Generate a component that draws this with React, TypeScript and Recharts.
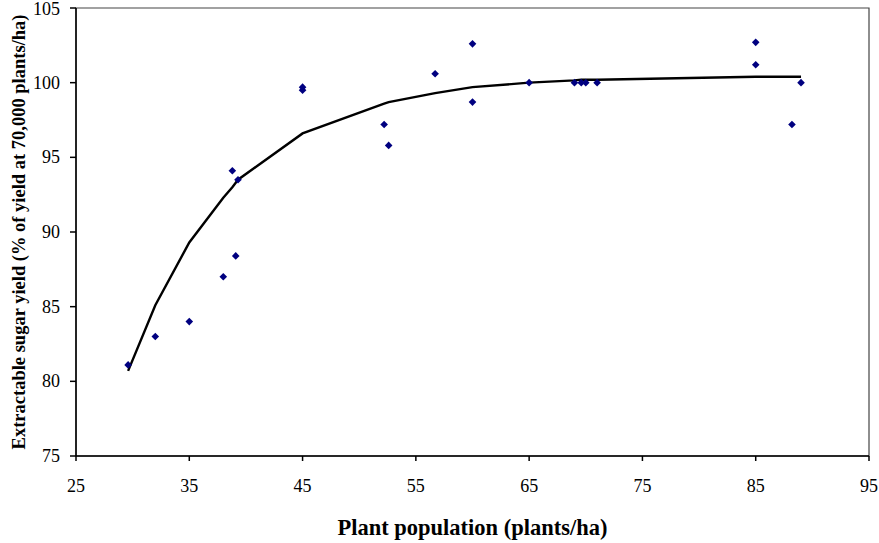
import React from 'react';
import { ScatterChart, Scatter, XAxis, YAxis, ReferenceArea, Label } from 'recharts';

// observed points
const obsX = [29.6, 32, 35, 38, 39.1, 38.8, 39.3, 45, 45, 52.2, 52.6, 56.7, 60, 60, 65, 69, 69.6, 70, 71, 85, 85, 88.2, 89];
const obsY = [81.1, 83, 84, 87, 88.4, 94.1, 93.5, 99.7, 99.5, 97.2, 95.8, 100.6, 102.6, 98.7, 100, 100, 100, 100, 100, 102.7, 101.2, 97.2, 100];

// fitted response curve
const fitX = [29.6, 32, 35, 38, 38.8, 39.1, 39.3, 45, 52.2, 52.6, 56.7, 60, 65, 69, 69.6, 70, 71, 85, 88.2, 89];
const fitY = [80.7, 85.1, 89.3, 92.3, 93.0, 93.3, 93.5, 96.6, 98.6, 98.7, 99.3, 99.7, 100.0, 100.15, 100.2, 100.2, 100.2, 100.4, 100.4, 100.4];

const xTicks = [25, 35, 45, 55, 65, 75, 85, 95];
const yTicks = [75, 80, 85, 90, 95, 100, 105];

const obsData = obsX.map((x, i) => ({ x, y: obsY[i] }));
const fitData = fitX.map((x, i) => ({ x, y: fitY[i] }));

const FONT = 'Liberation Serif';

const Diamond = (props: any) => {
    const { cx, cy } = props;
    if (cx == null || cy == null) return null;
    const r = 3.8;
    return <polygon points={`${cx},${cy - r} ${cx + r},${cy} ${cx},${cy + r} ${cx - r},${cy}`} fill="#000080" />;
};

const NoDot = () => <g />;

const XTick = (props: any) => (
    <text x={props.x} y={props.y} dy="0.72em" textAnchor="middle"
        style={{ fontFamily: FONT, fontSize: 18, fill: '#000' }}>
        {props.payload.value}
    </text>
);

const YTick = (props: any) => (
    <text x={props.x} y={props.y} dy="0.34em" textAnchor="end"
        style={{ fontFamily: FONT, fontSize: 18, fill: '#000' }}>
        {props.payload.value}
    </text>
);

const YTitle = (props: any) => {
    const vb = props.viewBox || { x: 0, y: 0, width: 0, height: 0 };
    const cx = vb.x + 19;
    const cy = vb.y + vb.height / 2;
    return (
        <text x={cx} y={cy} transform={`rotate(-90 ${cx} ${cy})`} textAnchor="middle" dominantBaseline="central"
            style={{ fontFamily: FONT, fontWeight: 'bold', fontSize: 18.5, fill: '#000' }}>
            Extractable sugar yield (% of yield at 70,000 plants/ha)
        </text>
    );
};

export default function App() {
    return (
        <div style={{ position: 'absolute', left: 0, top: 0, background: '#fff' }}>
            <ScatterChart width={879} height={543} margin={{ top: 8, right: 10, bottom: 0, left: 0 }}>
                <XAxis type="number" dataKey="x" domain={[25, 95]} ticks={xTicks} allowDataOverflow
                    height={87} tickSize={5} tickMargin={18} stroke="#000" strokeWidth={1.5}
                    tick={<XTick />}>
                    <Label value="Plant population (plants/ha)" position="insideBottom" offset={8}
                        style={{ fontFamily: FONT, fontWeight: 'bold', fontSize: 22.5, fill: '#000' }} />
                </XAxis>
                <YAxis type="number" dataKey="y" domain={[75, 105]} ticks={yTicks} allowDataOverflow
                    width={76} tickSize={6} tickMargin={10} stroke="#000" strokeWidth={1.5}
                    tick={<YTick />}>
                    <Label content={<YTitle />} />
                </YAxis>
                <ReferenceArea x1={25} x2={95} y1={75} y2={105} fill="none" stroke="#444" strokeWidth={1.2} ifOverflow="visible" />
                <Scatter data={fitData} line={{ stroke: '#000', strokeWidth: 2.4 }} lineType="joint" shape={<NoDot />} isAnimationActive={false} />
                <Scatter data={obsData} shape={<Diamond />} isAnimationActive={false} />
            </ScatterChart>
        </div>
    );
}
